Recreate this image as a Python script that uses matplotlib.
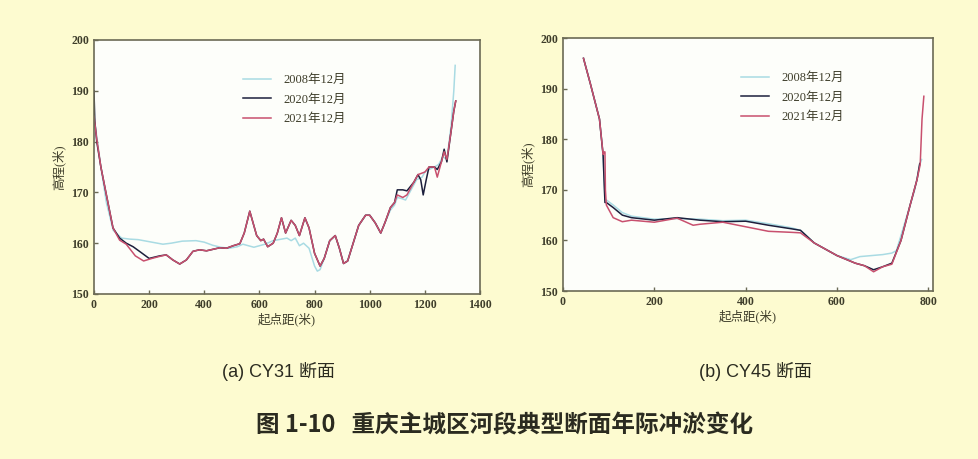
import matplotlib.pyplot as plt
import numpy as np

plt.rcParams['font.family'] = ['Liberation Serif', 'Noto Sans CJK SC']

# CY31 断面 (a)
cy31_x_2008 = [0, 10, 25, 45, 70, 100, 130, 160, 200, 250, 280, 320, 370, 400, 430, 460, 490, 520,
               540, 560, 580, 600, 620, 650, 680, 700, 715, 730, 745, 760, 780, 800, 810, 820, 835,
               855, 875, 890, 905, 920, 940, 960, 985, 1000, 1020, 1040, 1055, 1075, 1090, 1100,
               1115, 1130, 1150, 1170, 1190, 1200, 1215, 1235, 1250, 1265, 1280, 1295, 1305, 1310]
cy31_y_2008 = [185, 181, 175, 168, 162.5, 161, 160.8, 160.7, 160.3, 159.8, 160.0, 160.4, 160.5, 160.2,
               159.6, 159.2, 159.0, 159.3, 159.8, 159.5, 159.2, 159.5, 159.8, 160.5, 160.8, 161.0,
               160.5, 161.0, 159.5, 160.0, 159.0, 155.5, 154.5, 154.8, 157.0, 160.5, 161.5, 159.0,
               156.0, 156.5, 160.0, 163.5, 165.5, 165.5, 164.0, 162.0, 164.0, 166.5, 167.5, 169.0,
               168.8, 168.5, 170.5, 172.5, 173.0, 174.0, 174.5, 175.0, 175.5, 177.0, 176.5, 183.0,
               190.0, 195.0]

cy31_x_2020 = [0, 3, 10, 25, 45, 69, 93, 117, 142, 170, 200, 238, 262, 286, 311, 335, 359, 383,
               408, 432, 456, 480, 505, 529, 545, 565, 590, 605, 615, 630, 650, 665, 680, 695, 715,
               730, 745, 765, 780, 800, 820, 835, 855, 875, 890, 905, 920, 940, 960, 985, 1000,
               1020, 1040, 1055, 1075, 1090, 1100, 1120, 1135, 1160, 1175, 1185, 1194, 1205, 1215,
               1235, 1245, 1260, 1270, 1280, 1295, 1305, 1312]
cy31_y_2020 = [190, 184, 180, 175, 169.5, 163, 161, 160, 159.3, 158.2, 157.0, 157.5, 157.7, 156.7,
               155.9, 156.7, 158.4, 158.7, 158.5, 158.8, 159.1, 159.0, 159.5, 159.9, 162.0, 166.3,
               161.5, 160.5, 160.8, 159.3, 160.0, 162.0, 165.0, 162.0, 164.5, 163.5, 161.5, 165.0,
               163.0, 158.0, 155.5, 157.0, 160.5, 161.5, 159.0, 156.0, 156.5, 160.0, 163.5, 165.5,
               165.5, 164.0, 162.0, 164.0, 167.0, 168.0, 170.5, 170.5, 170.3, 172.0, 173.5, 172.5,
               169.5, 172.5, 175.0, 175.0, 174.5, 176.0, 178.5, 176.0, 182.0, 186.0, 188.0]

cy31_x_2021 = [0, 10, 25, 45, 69, 93, 117, 150, 180, 210, 238, 262, 286, 311, 335, 359, 383,
               408, 432, 456, 480, 505, 529, 545, 565, 590, 605, 615, 630, 650, 665, 680, 695, 715,
               730, 745, 765, 780, 800, 820, 835, 855, 875, 890, 905, 920, 940, 960, 985, 1000,
               1020, 1040, 1055, 1075, 1090, 1100, 1120, 1135, 1160, 1175, 1200, 1215, 1235, 1245,
               1260, 1270, 1280, 1295, 1305, 1312]
cy31_y_2021 = [185, 180.5, 175, 169.5, 163, 160.6, 159.8, 157.5, 156.5, 157.0, 157.4, 157.7, 156.7,
               155.9, 156.7, 158.4, 158.7, 158.5, 158.8, 159.1, 159.0, 159.5, 159.9, 162.0, 166.3,
               161.5, 160.5, 160.8, 159.3, 160.0, 162.0, 165.0, 162.0, 164.5, 163.5, 161.5, 165.0,
               163.0, 158.0, 155.5, 157.0, 160.5, 161.5, 159.0, 156.0, 156.5, 160.0, 163.5, 165.5,
               165.5, 164.0, 162.0, 164.0, 167.0, 168.0, 169.5, 169.0, 169.5, 172.0, 173.5, 174.0,
               175.0, 175.0, 173.0, 176.0, 178.0, 176.5, 182.0, 186.0, 188.0]

# CY45 断面 (b)
cy45_x_2008 = [45, 60, 80, 88, 90, 92, 95, 110, 130, 150, 200, 250, 300, 350, 400, 450, 500, 520,
               550, 600, 630, 650, 700, 720, 730, 750, 770, 781, 785]
cy45_y_2008 = [196, 191, 184, 177, 172, 168, 168, 167, 165.5, 164.8, 164.2, 164.3, 164.2, 163.9,
               164.0, 163.3, 162.5, 162.0, 159.5, 157.0, 156.2, 156.8, 157.2, 157.5, 158.0, 164.0,
               170.0, 175.0, 176.0]

cy45_x_2020 = [45, 60, 80, 88, 90, 92, 95, 110, 130, 150, 200, 250, 300, 350, 400, 450, 500, 520,
               550, 600, 640, 660, 680, 700, 720, 740, 760, 775, 781]
cy45_y_2020 = [196, 191, 184, 176.8, 172, 167.5, 167.5, 166.5, 165.0, 164.5, 164.0, 164.5, 164.0,
               163.7, 163.8, 163.0, 162.3, 162.0, 159.5, 157.0, 155.5, 155.0, 154.2, 154.8, 155.5,
               160.0, 167.0, 172.0, 175.2]

cy45_x_2021 = [45, 60, 80, 88, 90, 92, 93, 95, 110, 130, 150, 200, 250, 285, 300, 350, 400, 450,
               500, 520, 550, 600, 640, 660, 680, 700, 720, 740, 760, 775, 782, 786, 790]
cy45_y_2021 = [196, 191, 184, 177, 177.5, 177.5, 170, 167, 164.5, 163.7, 164.0, 163.6, 164.4, 163.0,
               163.2, 163.6, 162.7, 161.8, 161.6, 161.5, 159.5, 157.0, 155.5, 155.0, 153.8, 154.8,
               155.3, 160.0, 167.0, 172.0, 175.0, 184.0, 188.5]

labels = ['2008年12月', '2020年12月', '2021年12月']
colors = ['#a9dbe3', '#1c1f3c', '#c8506e']

bg = '#fdfbd0'
spine_c = '#6b6a55'
text_c = '#3e3d2a'

fig = plt.figure(figsize=(9.79, 4.59), dpi=100, facecolor=bg)
ax1 = fig.add_axes([0.096, 0.3595, 0.3943, 0.5534])
ax2 = fig.add_axes([0.575, 0.366, 0.378, 0.551])

panels = [
    (ax1, [(cy31_x_2008, cy31_y_2008), (cy31_x_2020, cy31_y_2020), (cy31_x_2021, cy31_y_2021)],
     (0, 1400), [0, 200, 400, 600, 800, 1000, 1200, 1400], (0.52, 0.91)),
    (ax2, [(cy45_x_2008, cy45_y_2008), (cy45_x_2020, cy45_y_2020), (cy45_x_2021, cy45_y_2021)],
     (0, 810), [0, 200, 400, 600, 800], (0.62, 0.91)),
]

for ax, series, xlim, xticks, leg_pos in panels:
    ax.set_facecolor('#fdfefa')
    for (x, y), lab, c in zip(series, labels, colors):
        ax.plot(x, y, color=c, lw=1.1, label=lab)
    ax.set_xlim(*xlim)
    ax.set_ylim(150, 200)
    ax.set_xticks(xticks)
    ax.set_yticks([150, 160, 170, 180, 190, 200])
    ax.tick_params(direction='in', length=3, width=1, colors=spine_c, labelcolor=text_c,
                   labelsize=8.5)
    for lbl in ax.get_xticklabels() + ax.get_yticklabels():
        lbl.set_fontweight('bold')
    for s in ax.spines.values():
        s.set_color(spine_c)
        s.set_linewidth(1.2)
    ax.set_xlabel('起点距(米)', fontsize=9, color=text_c, labelpad=1)
    ax.set_ylabel('高程(米)', fontsize=9, color=text_c, labelpad=4)
    ax.legend(loc='upper center', bbox_to_anchor=leg_pos, frameon=False, fontsize=9,
              handlelength=2.2, labelspacing=0.6, handletextpad=1.0, labelcolor=text_c)

fig.text(0.284, 0.19, '(a) CY31 断面', ha='center', va='center', fontsize=13,
         family=['Liberation Sans', 'Noto Sans CJK SC'], color='#2b2b20')
fig.text(0.772, 0.19, '(b) CY45 断面', ha='center', va='center', fontsize=13,
         family=['Liberation Sans', 'Noto Sans CJK SC'], color='#2b2b20')
fig.text(0.515, 0.073, '图 1-10   重庆主城区河段典型断面年际冲淤变化', ha='center', va='center',
         fontsize=17, fontweight='bold', family=['Noto Sans CJK SC', 'DejaVu Sans'],
         color='#2b2b20')

fig.savefig('out.png', dpi=100, facecolor=bg)
